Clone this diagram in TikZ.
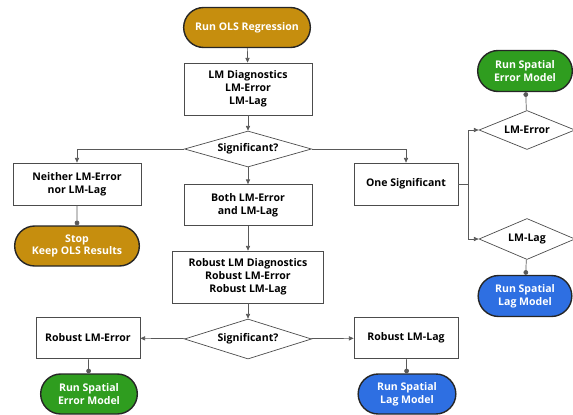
\documentclass[tikz,border=0pt]{standalone}
\usepackage{fontspec}
\setmainfont{Open Sans}
\usetikzlibrary{shapes.geometric,shapes.misc,arrows.meta}

\definecolor{olsgold}{HTML}{C68E0E}
\definecolor{errgreen}{HTML}{2F9D1F}
\definecolor{lagblue}{HTML}{2E6FE2}

\begin{document}
\begin{tikzpicture}[x=0.3mm,y=-0.3mm,
    font=\bfseries\fontsize{9}{11}\selectfont,
    stepbox/.style={draw=black!70,line width=0.6pt,align=center,inner sep=1pt},
    endcap/.style={rounded rectangle,draw=black!85,line width=1.2pt,
        text=white,align=center,inner sep=1pt},
    check/.style={diamond,draw=black!70,line width=0.6pt,inner sep=0pt}]

\useasboundingbox (0,0) rectangle (573,414);

\begin{scope}

    \node[endcap,fill=olsgold,minimum width=38.7mm,minimum height=12mm] (A) at (247,27.5)
        {Run OLS Regression};
    \node[stepbox,minimum width=38.4mm,minimum height=15.6mm] (B) at (248,89)
        {LM Diagnostics\\LM-Error\\LM-Lag};
    \node[check,aspect=3.5,minimum width=38.1mm,minimum height=10.8mm] (C) at (248,149)
        {Significant?};

    \node[stepbox,minimum width=38.4mm,minimum height=12.6mm] (D) at (77,184)
        {Neither LM-Error\\nor LM-Lag};
    \node[endcap,fill=olsgold,minimum width=38.1mm,minimum height=12mm] (E) at (77,246)
        {Stop\\Keep OLS Results};

    \node[stepbox,minimum width=38.4mm,minimum height=12.3mm] (F) at (248,205)
        {Both LM-Error\\and LM-Lag};
    \node[stepbox,minimum width=45.3mm,minimum height=15.6mm] (G) at (248,277)
        {Robust LM Diagnostics\\Robust LM-Error\\Robust LM-Lag};
    \node[check,aspect=3.2,minimum width=38.1mm,minimum height=12mm] (H) at (248,339)
        {Significant?};

    \node[stepbox,minimum width=31.2mm,minimum height=12.3mm] (I) at (88,338)
        {Robust LM-Error};
    \node[endcap,fill=errgreen,minimum width=29.7mm,minimum height=12mm] (J) at (89,394)
        {Run Spatial\\Error Model};
    \node[stepbox,minimum width=31.2mm,minimum height=12.3mm] (K) at (406,338)
        {Robust LM-Lag};
    \node[endcap,fill=lagblue,minimum width=30mm,minimum height=12mm] (L) at (407,394)
        {Run Spatial\\Lag Model};

    \node[stepbox,minimum width=31.2mm,minimum height=12.6mm] (M) at (406,184)
        {One Significant};
    \coordinate (N) at (468,184);

    \node[check,aspect=2.4,minimum width=28.8mm,minimum height=11.7mm] (O) at (527,130)
        {LM-Error};
    \node[endcap,fill=errgreen,minimum width=29.1mm,minimum height=12.3mm] (P) at (525,71)
        {Run Spatial\\Error Model};
    \node[check,aspect=2.3,minimum width=28.8mm,minimum height=12.3mm] (Q) at (527,239)
        {LM-Lag};
    \node[endcap,fill=lagblue,minimum width=28.8mm,minimum height=12.3mm] (R) at (525,296)
        {Run Spatial\\Lag Model};

\end{scope}

\begin{scope} [every path/.style={draw=black!65,line width=0.6pt},
              >={Triangle[length=4pt,width=3.5pt]}]

    \draw[->] (A) -- (B);
    \draw[->] (B) -- (C);
    \draw[->] (C.west) -| (D.north);
    \draw[->] (C.east) -| (M.north);
    \draw[->] (C) -- (F);
    \draw[-{Circle[length=4pt]}] (D) -- (E);

    \draw[->] (F) -- (G);
    \draw[->] (G) -- (H);
    \draw[->] (H) -- (I);
    \draw[->] (H) -- (K);
    \draw[-{Circle[length=4pt]}] (I) -- (J);
    \draw[-{Circle[length=4pt]}] (K) -- (L);

    \draw (M.east) -- (N);
    \draw[->] (N) |- (O.west);
    \draw[->] (N) |- (Q.west);
    \draw[-{Circle[length=4pt]}] (O) -- (P);
    \draw[-{Circle[length=4pt]}] (Q) -- (R);

\end{scope}

\end{tikzpicture}
\end{document}
